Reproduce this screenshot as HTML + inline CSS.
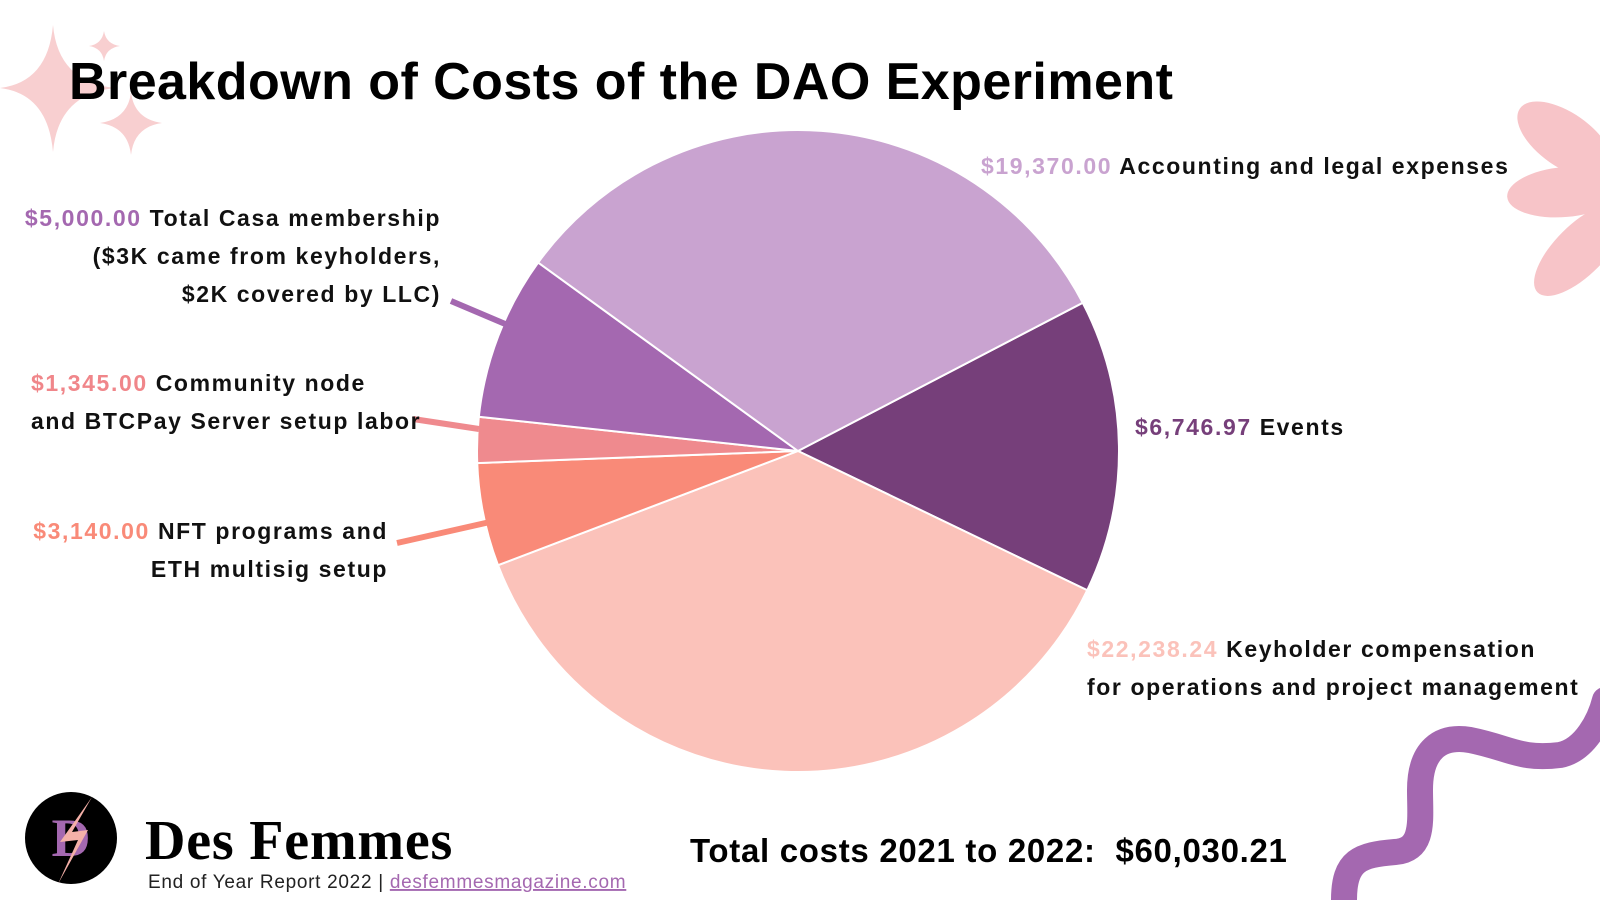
<!DOCTYPE html>
<html><head><meta charset="utf-8">
<style>
html,body{margin:0;padding:0;background:#fff;}
svg{display:block;font-family:"Liberation Sans",sans-serif;}
.lbl{font-size:23px;font-weight:bold;fill:#111;letter-spacing:1.6px;}
</style></head>
<body>
<svg id="chart" width="1600" height="900" viewBox="0 0 1600 900">
  <g fill="#f8cfd0">
    <path d="M53,25 Q58,82 115,88 Q58,94 53,152 Q48,94 0,88 Q48,82 53,25Z"/>
    <path d="M104,31 Q106,44 120,46 Q106,48 104,61 Q102,48 89,46 Q102,44 104,31Z"/>
    <path d="M131,92 Q134,119 162,123 Q134,127 131,155 Q128,127 100,123 Q128,119 131,92Z"/>
  </g>
  <g fill="#f7c4c8">
    <ellipse cx="1565" cy="140" rx="55" ry="27" transform="rotate(35 1565 140)"/>
    <ellipse cx="1565" cy="192" rx="58" ry="25" transform="rotate(-5 1565 192)"/>
    <ellipse cx="1580" cy="250" rx="60" ry="25" transform="rotate(-45 1580 250)"/>
  </g>
  <path d="M1344,900 C1344,860 1360,855 1395,852 C1425,850 1420,820 1420,790 C1420,750 1440,735 1470,740 C1510,748 1520,760 1560,755 C1585,750 1600,720 1605,700" fill="none" stroke="#a468b0" stroke-width="26" stroke-linecap="round"/>
  <text x="69" y="99" font-size="52" font-weight="bold" fill="#000" letter-spacing="0.45">Breakdown of Costs of the DAO Experiment</text>
  <g id="pie"></g>
  <g id="leaders"></g>
  <g id="labels"></g>
  <text x="690" y="862" font-size="33" font-weight="bold" fill="#000" letter-spacing="0.7" xml:space="preserve">Total costs 2021 to 2022:  $60,030.21</text>
  <g>
    <circle cx="71" cy="838" r="46" fill="#000"/>
    <text x="71" y="856" text-anchor="middle" font-family="Liberation Serif,serif" font-size="54" font-weight="bold" fill="#a468b0">D</text>
    <path d="M92,797 L60,842 L78,840 L58,884 L88,830 L72,832Z" fill="#f4b0a8"/>
  </g>
  <text x="145" y="859" font-family="Liberation Serif,serif" font-size="56" font-weight="bold" fill="#000" letter-spacing="0.8">Des Femmes</text>
  <text x="148" y="888" font-size="19" fill="#222" letter-spacing="0.7">End of Year Report 2022 | <tspan fill="#a468b0" text-decoration="underline">desfemmesmagazine.com</tspan></text>
</svg>
<script>
const categories = ["Events","Keyholder compensation","NFT programs","Community node","Casa membership","Accounting and legal"];
const amounts = [6746.97, 22238.24, 3140.00, 1345.00, 5000.00, 19370.00];
// slice shares as drawn in the picture (estimated, in dollars)
const sliceValues = [8880, 22270, 3120, 1380, 4980, 19450];
const colors = ["#763f7a","#fbc2ba","#f98a78","#ef8a8e","#a468b0","#c9a3d0"];
const amountColors = ["#763f7a","#fbc2ba","#f98a78","#f0868a","#a468b0","#c9a3d0"];
const labelLines = [
  ["Events"],
  ["Keyholder compensation","for operations and project management"],
  ["NFT programs and","ETH multisig setup"],
  ["Community node","and BTCPay Server setup labor"],
  ["Total Casa membership","($3K came from keyholders,","$2K covered by LLC)"],
  ["Accounting and legal expenses"]
];
const NS="http://www.w3.org/2000/svg";
const cx=798, cy=451, r=321, startDeg=-27.5;
const total=sliceValues.reduce((a,b)=>a+b,0);
const pie=document.getElementById('pie');
function pt(deg,rad){const a=deg*Math.PI/180;return [cx+rad*Math.cos(a),cy+rad*Math.sin(a)];}
let ang=startDeg;
sliceValues.forEach((v,i)=>{
  const span=v/total*360, a2=ang+span;
  const p1=pt(ang,r), p2=pt(a2,r);
  const p=document.createElementNS(NS,'path');
  p.setAttribute('d',`M${cx},${cy} L${p1[0]},${p1[1]} A${r},${r} 0 ${span>180?1:0} 1 ${p2[0]},${p2[1]} Z`);
  p.setAttribute('fill',colors[i]);
  p.setAttribute('stroke','#fff');
  p.setAttribute('stroke-width','2');
  
  
  pie.appendChild(p);
  ang=a2;
});
const layout=[
  {x:1135,y:435,anchor:'start'},
  {x:1087,y:657,anchor:'start'},
  {x:388,y:539,anchor:'end'},
  {x:31,y:391,anchor:'start'},
  {x:441,y:226,anchor:'end'},
  {x:981,y:174,anchor:'start'}
];
const leaders=[null,null,[[397,543],[490,522]],[[413,419],[479,429]],[[451,301],[510,326]],null];
const lg=document.getElementById('leaders');
leaders.forEach((l,i)=>{
  if(!l)return;
  const ln=document.createElementNS(NS,'line');
  ln.setAttribute('x1',l[0][0]);ln.setAttribute('y1',l[0][1]);
  ln.setAttribute('x2',l[1][0]);ln.setAttribute('y2',l[1][1]);
  ln.setAttribute('stroke',colors[i]);ln.setAttribute('stroke-width','6');
  
  
  lg.appendChild(ln);
});
const lab=document.getElementById('labels');
function fmt(v){return '$'+v.toLocaleString('en-US',{minimumFractionDigits:2,maximumFractionDigits:2});}
amounts.forEach((v,i)=>{
  const L=layout[i];
  labelLines[i].forEach((line,j)=>{
    const t=document.createElementNS(NS,'text');
    t.setAttribute('class','lbl');
    t.setAttribute('x',L.x);t.setAttribute('y',L.y+j*38);
    t.setAttribute('text-anchor',L.anchor);
    
    
    if(j===0){
      const s=document.createElementNS(NS,'tspan');
      s.setAttribute('fill',amountColors[i]);
      s.textContent=fmt(v)+' ';
      t.appendChild(s);
      t.appendChild(document.createTextNode(line));
    } else t.textContent=line;
    lab.appendChild(t);
  });
});
</script>
</body></html>
